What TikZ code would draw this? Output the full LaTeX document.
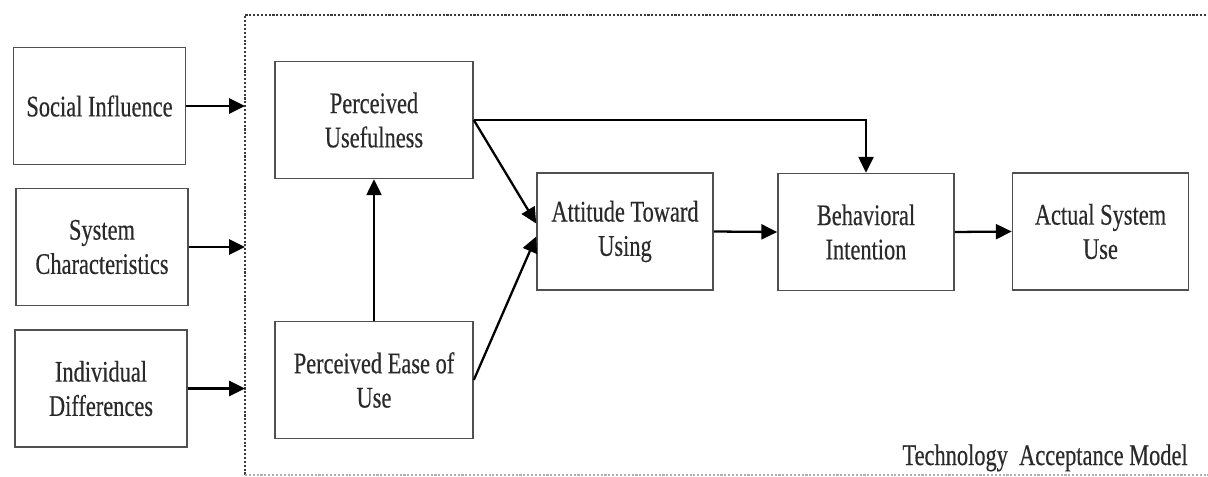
\documentclass[tikz,border=0pt]{standalone}
\usepackage{fontspec}
\setmainfont{Liberation Serif}[FakeStretch=0.75,FakeBold=0.4]
\usepackage{xcolor}
\definecolor{boxline}{HTML}{505050}
\definecolor{inktext}{HTML}{2A2A2A}
\definecolor{frameline}{HTML}{3A3A3A}
\usepackage{tikz}
\usetikzlibrary{arrows.meta,positioning,calc}

\begin{document}
\begin{tikzpicture}[
  x=0.02cm,y=-0.02cm,
  ext/.style={draw=boxline,line width=0.9pt,
              minimum width=3.44cm,minimum height=2.34cm,
              font=\fontsize{17}{19.5}\selectfont,text=inktext,align=center},
  tam/.style={draw=boxline,line width=0.9pt,
              minimum width=3.52cm,minimum height=2.34cm,
              font=\fontsize{17}{19.5}\selectfont,text=inktext,align=center},
  arrow/.style={-{Triangle[length=9pt,width=8.5pt]},line width=1.3pt,color=black},
  tamframe/.style={draw=frameline,line width=1.3pt,dash pattern=on 1.2pt off 1pt}
]
\useasboundingbox (0,0) rectangle (1208,477);

% Factores externos (izquierda)
\node[ext] (si) at (99.5,106)  {Social Influence};
\node[ext] (sc) at (102,247)   {System\\Characteristics};
\node[ext] (id) at (101,388.5) {Individual\\Differences};

% Marco del modelo
\coordinate (tamTL) at (245,15);
\coordinate (tamBL) at (245,475);
\draw[tamframe] (1210,15) -- (tamTL) -- (tamBL);
\draw[tamframe,draw=frameline!40,line width=0.8pt] (tamBL) -- (1210,475);

% Constructos TAM
\node[tam,minimum width=3.96cm] (pu)   at (374,120)    {Perceived\\Usefulness};
\node[tam,minimum width=3.96cm] (peou) at (374,380)    {Perceived Ease of\\Use};
\node[tam] (atu) at (625,231.5)  {Attitude Toward\\Using};
\node[tam] (bi)  at (866,232)    {Behavioral\\Intention};
\node[tam] (asu) at (1100.5,231.5) {Actual System\\Use};

% Flechas externos -> marco
\draw[arrow] (si.east) -- (si.east -| tamTL);
\draw[arrow] (sc.east) -- (sc.east -| tamTL);
\draw[arrow] (id.east) -- (id.east -| tamTL);

% Flechas dentro del modelo
\draw[arrow] (peou.north) -- (pu.south);
\draw[arrow] (pu.east) -- ([yshift=0.16cm]atu.west);
\draw[arrow] (peou.east) -- ([yshift=-0.1cm]atu.west);
\draw[arrow] (pu.east) -| (bi.north);
\draw[arrow] (atu.east) -- (bi.west);
\draw[arrow] (bi.east) -- (asu.west);

% Etiqueta del modelo
\node[font=\fontsize{17}{19.5}\selectfont,text=inktext,anchor=base east,inner sep=0pt]
  (tamlabel) at (1188,465) {Technology\ \ Acceptance Model};

\end{tikzpicture}
\end{document}
